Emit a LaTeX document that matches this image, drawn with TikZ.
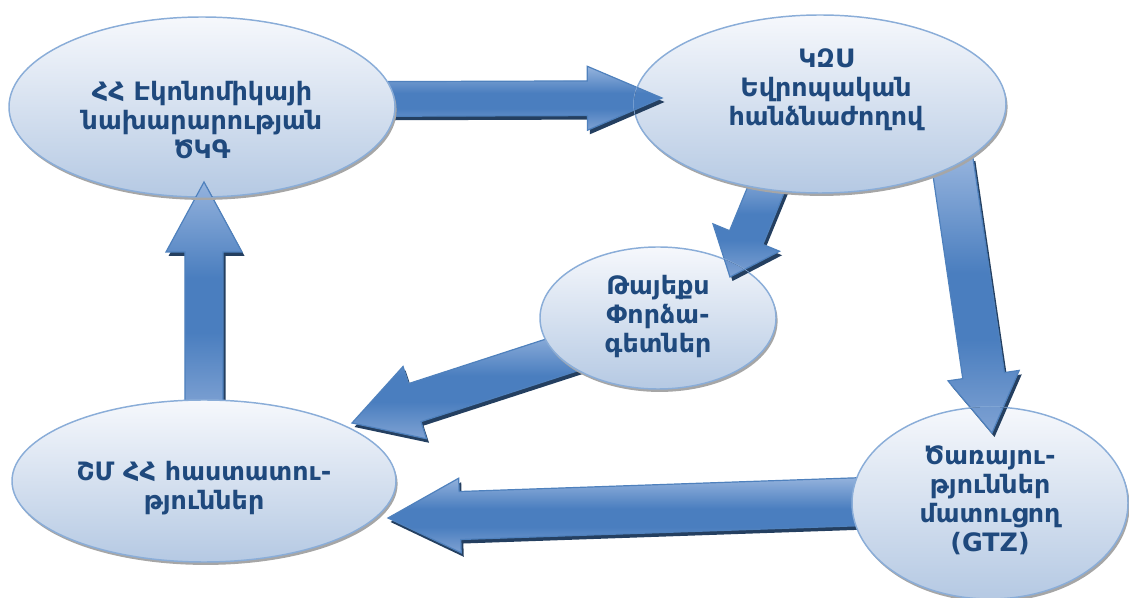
\documentclass[tikz,border=0pt]{standalone}
\usepackage{fontspec}
\setmainfont{DejaVu Sans}
\usetikzlibrary{calc, shapes.geometric, shadows}

\definecolor{txtblue}{HTML}{1F497D}
\definecolor{rimblue}{HTML}{8AADD8}
\definecolor{bubtop}{HTML}{F6F8FC}
\definecolor{bubbot}{HTML}{B5C9E3}
\definecolor{arrlight}{HTML}{95B3DD}
\definecolor{arrmid}{HTML}{4A7EBF}
\definecolor{arrlow}{HTML}{7FA2D3}
\definecolor{arrrim}{HTML}{4F81BD}
\definecolor{arrshade}{HTML}{243F60}

\pgfdeclareverticalshading{arrowfill}{100bp}{color(0bp)=(arrlow); color(25bp)=(arrlow);
	color(42bp)=(arrmid); color(54bp)=(arrmid); color(75bp)=(arrlight); color(100bp)=(arrlight)}

\pgfdeclarelayer{back}
\pgfdeclarelayer{front}
\pgfsetlayers{back,main,front}

\tikzset{
	bubble/.style={ellipse, draw=rimblue, line width=1.1pt, top color=bubtop, bottom color=bubbot,
		inner sep=0pt, drop shadow={shadow xshift=1.2pt, shadow yshift=-2.2pt, fill=black!35, opacity=1}},
	bubtext/.style={text=txtblue, font=\bfseries\fontsize{19}{21.75}\selectfont, align=center},
	fat arrow/.style={draw=arrrim, line width=0.9pt, line join=miter, shading=arrowfill},
	fat shadow/.style={fill=arrshade, transform canvas={shift={(1.9pt,-3pt)}}},
}

% block arrow: from, to, shaft half width, head half width, head length
\newcommand{\fatarrow}[5]{%
	\foreach \look in {fat shadow, fat arrow}
	\path[\look] ($(#1)!#3!90:(#2)$) -- ($(#2)!#5!(#1)!#3!90:(#2)$)
		-- ($(#2)!#5!(#1)!#4!90:(#2)$) -- (#2)
		-- ($(#2)!#5!(#1)!#4!-90:(#2)$) -- ($(#2)!#5!(#1)!#3!-90:(#2)$)
		-- ($(#1)!#3!-90:(#2)$) -- cycle;
}

\begin{document}
\begin{tikzpicture}[x=0.75pt, y=-0.75pt]
	\useasboundingbox (0,0) rectangle (1129,598);
	
	% ellipses
	\node[bubble, minimum width=289.5pt, minimum height=135pt] (eco) at (202,107) {};
	\node[bubble, minimum width=279pt, minimum height=133.5pt] (comm) at (820,104) {};
	\node[bubble, minimum width=177pt, minimum height=106.5pt] (taiex) at (658,318) {};
	\node[bubble, minimum width=288pt, minimum height=121.5pt] (inst) at (204,481) {};
	\node[bubble, minimum width=207pt, minimum height=144pt] (gtz) at (990,503) {};
	
	% texts
	\node[bubtext] (eco-t) at ([yshift=-9.75pt]eco.center) {ՀՀ Էկոնոմիկայի\\նախարարության\\ԾԿԳ};
	\node[bubtext] (comm-t) at ([xshift=4.5pt, yshift=11pt]comm.center) {ԿԶՍ\\Եվրոպական\\հանձնաժողով};
	\node[bubtext] (taiex-t) at ([yshift=1pt]taiex.center) {Թայեքս\\Փորձա-\\գետներ};
	\node[bubtext] (inst-t) at ([yshift=-5pt]inst.center) {ՇՄ ՀՀ հաստատու-\\թյուններ};
	\node[bubtext] (gtz-t) at ([yshift=2pt]gtz.center) {Ծառայու-\\թյուններ\\մատուցող\\(GTZ)};
	
	% arrow ends
	\coordinate (a1s) at (370,99);  \coordinate (a1e) at (662,98);
	\coordinate (a2s) at (204,410); \coordinate (a2e) at (204,182);
	\coordinate (a3s) at (772,175); \coordinate (a3e) at (730,277);
	\coordinate (a4s) at (952,160); \coordinate (a4e) at (992,433);
	\coordinate (a5s) at (580,349); \coordinate (a5e) at (352,423);
	\coordinate (a6s) at (880,501); \coordinate (a6e) at (388,518);
	
	% arrows behind the ellipses
	\begin{pgfonlayer}{back}
		\fatarrow{a1s}{a1e}{13pt}{24pt}{56pt}
		\fatarrow{a2s}{a2e}{14.3pt}{28.5pt}{52.5pt}
		\fatarrow{a3s}{a3e}{13.5pt}{27pt}{32pt}
		\fatarrow{a4s}{a4e}{15.8pt}{27pt}{43.5pt}
		\fatarrow{a5s}{a5e}{15pt}{28.5pt}{49.5pt}
		\fatarrow{a6s}{a6e}{18pt}{28pt}{54pt}
	\end{pgfonlayer}
	
	% heads again on top of the target ellipses
	\begin{pgfonlayer}{front}
		\begin{scope}
			\clip (comm.center) ellipse [x radius=139.5pt, y radius=66.75pt];
			\fatarrow{a1s}{a1e}{13pt}{24pt}{56pt}
		\end{scope}
		\begin{scope}
			\clip (eco.center) ellipse [x radius=144.75pt, y radius=67.5pt];
			\fatarrow{a2s}{a2e}{14.3pt}{28.5pt}{52.5pt}
		\end{scope}
		\begin{scope}
			\clip (taiex.center) ellipse [x radius=88.5pt, y radius=53.25pt];
			\fatarrow{a3s}{a3e}{13.5pt}{27pt}{32pt}
		\end{scope}
		\begin{scope}
			\clip (gtz.center) ellipse [x radius=103.5pt, y radius=72pt];
			\fatarrow{a4s}{a4e}{15.8pt}{27pt}{43.5pt}
		\end{scope}
	\end{pgfonlayer}
\end{tikzpicture}
\end{document}
